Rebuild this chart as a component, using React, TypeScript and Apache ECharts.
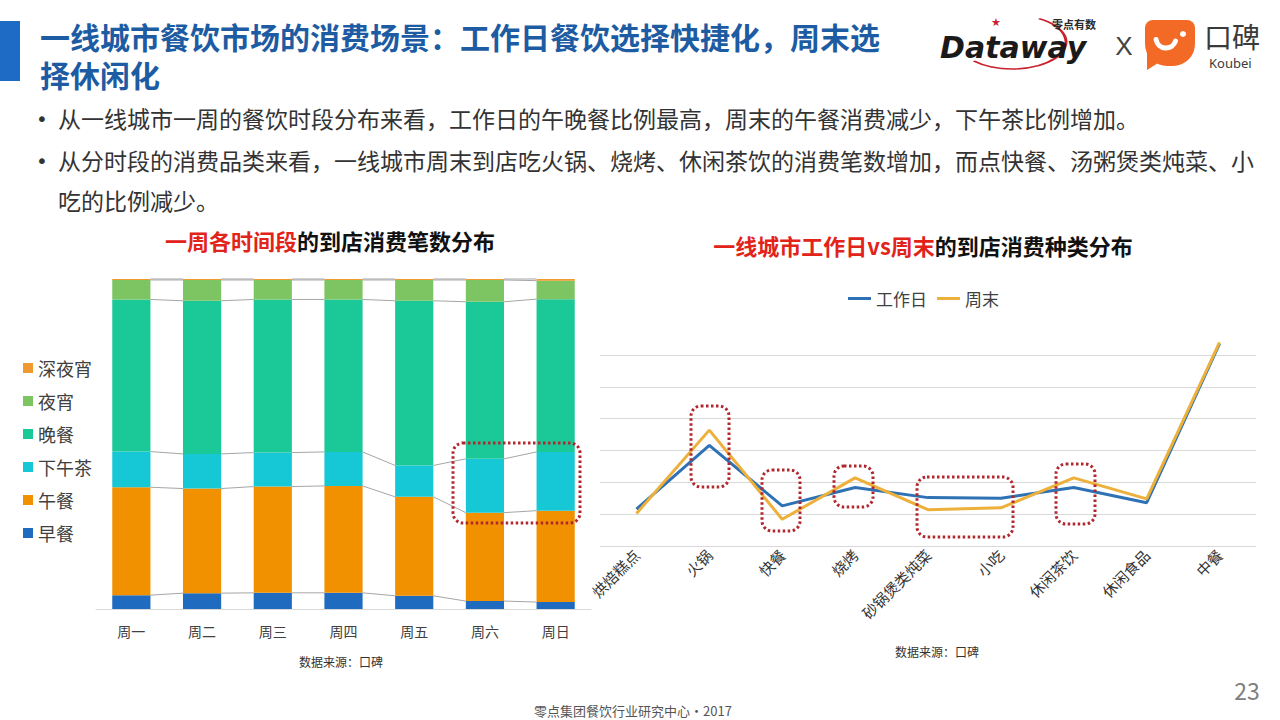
import { useEffect, useRef } from "react";
import * as echarts from "echarts";

// ---------- Left chart data: share of in-store orders by time slot (%) ----------
const days = ["周一", "周二", "周三", "周四", "周五", "周六", "周日"];
const breakfast = [4.2, 4.8, 4.9, 4.9, 4.0, 2.4, 2.1];
const lunch = [32.7, 31.7, 32.2, 32.4, 30.0, 26.8, 27.7];
const afternoonTea = [10.8, 10.5, 10.3, 10.3, 9.5, 16.3, 17.8];
const dinner = [46.1, 46.4, 46.4, 46.2, 49.9, 47.6, 46.3];
const lateSnack = [5.9, 6.3, 5.9, 5.9, 6.3, 6.6, 5.6];
const midnightSnack = [0.3, 0.3, 0.3, 0.3, 0.3, 0.3, 0.5];

const slotNames = ["早餐", "午餐", "下午茶", "晚餐", "夜宵", "深夜宵"];
const slotColors = ["#1F6BC0", "#F29100", "#16C8D6", "#1BC998", "#7DC462", "#EE9A2E"];
const legendOrder = ["深夜宵", "夜宵", "晚餐", "下午茶", "午餐", "早餐"];

// ---------- Right chart data: weekday vs weekend category share (%) ----------
const categories = ["烘焙糕点", "火锅", "快餐", "烧烤", "砂锅煲类炖菜", "小吃", "休闲茶饮", "休闲食品", "中餐"];
const weekday = [5.8, 15.8, 6.3, 9.2, 7.6, 7.5, 9.2, 6.8, 31.8];
const weekend = [5.1, 18.2, 4.2, 10.7, 5.7, 6.0, 10.7, 7.4, 32.0];

const FONT = "'Noto Sans CJK SC', 'Noto Sans', sans-serif";

export default function App() {
  const ref = useRef<HTMLDivElement>(null);

  useEffect(() => {
    if (!ref.current) return;
    const chart = echarts.init(ref.current, null, { renderer: "svg" });

    const slotSeries = [breakfast, lunch, afternoonTea, dinner, lateSnack, midnightSnack];
    const cumulative = days.map((_, i) => {
      let s = 0;
      return slotSeries.map((arr) => (s += arr[i]));
    });
    const BAR_RATIO = 0.54;

    const barSeries = slotNames.map((name, k) => ({
      name,
      type: "bar",
      stack: "slots",
      xAxisIndex: 0,
      yAxisIndex: 0,
      barWidth: "54%",
      itemStyle: { color: slotColors[k] },
      data: slotSeries[k],
    }));

    const dotted = { fill: "none", stroke: "#B0282E", lineWidth: 3, lineDash: [2.5, 2.5] };
    const box = (x: number, y: number, w: number, h: number) => ({
      type: "rect",
      shape: { x, y, width: w, height: h, r: 10 },
      style: dotted,
      z: 100,
    });

    const titleStyle = (text: string) => ({
      text,
      fontSize: 30,
      lineHeight: 34,
      fontWeight: "bold",
      fill: "#1D5CA3",
      fontFamily: FONT,
      verticalAlign: "middle",
    });

    const option: any = {
      animation: false,
      backgroundColor: "#ffffff",
      textStyle: { fontFamily: FONT },
      legend: [
        {
          data: legendOrder,
          orient: "vertical",
          left: 18,
          top: 354,
          itemWidth: 10,
          itemHeight: 10,
          itemGap: 15,
          icon: "rect",
          textStyle: { fontSize: 18, color: "#404040", fontFamily: FONT, lineHeight: 18 },
        },
        {
          data: ["工作日", "周末"],
          left: 843,
          top: 285,
          icon: "rect",
          itemWidth: 23,
          itemHeight: 3,
          itemGap: 10,
          textStyle: { fontSize: 17, color: "#404040", fontFamily: FONT },
        },
      ],
      grid: [
        { left: 96, top: 279, width: 495, height: 330 },
        { left: 600, top: 355, width: 656, height: 191 },
      ],
      xAxis: [
        {
          type: "category",
          gridIndex: 0,
          data: days,
          axisLine: { lineStyle: { color: "#D9D9D9" } },
          axisTick: { length: 5, lineStyle: { color: "#D9D9D9" } },
          axisLabel: { color: "#404040", fontSize: 14, margin: 15, fontFamily: FONT },
        },
        {
          type: "category",
          gridIndex: 1,
          data: categories,
          axisLine: { show: false },
          axisTick: { show: false },
          axisLabel: { color: "#333333", fontSize: 15, rotate: 45, interval: 0, margin: 6, fontFamily: FONT },
        },
      ],
      yAxis: [
        { type: "value", gridIndex: 0, min: 0, max: 100, show: false, splitLine: { show: false } },
        {
          type: "value",
          gridIndex: 1,
          min: 0,
          max: 30,
          interval: 5,
          axisLabel: { show: false },
          axisLine: { show: false },
          axisTick: { show: false },
          splitLine: { lineStyle: { color: "#D9D9D9", width: 1 } },
        },
      ],
      series: [
        ...barSeries,
        {
          type: "custom",
          name: "series-lines",
          xAxisIndex: 0,
          yAxisIndex: 0,
          silent: true,
          z: 1,
          encode: { x: 0, y: 1 },
          data: days.slice(0, -1).map((_, i) => [i, 0]),
          renderItem: (params: any, api: any) => {
            const i = api.value(0);
            const half = (api.size([1, 0])[0] * BAR_RATIO) / 2;
            const children = cumulative[i].map((c: number, k: number) => {
              const p1 = api.coord([i, c]);
              const p2 = api.coord([i + 1, cumulative[i + 1][k]]);
              return {
                type: "line",
                shape: { x1: p1[0] + half, y1: p1[1], x2: p2[0] - half, y2: p2[1] },
                style: { stroke: "#A6A6A6", lineWidth: 1 },
              };
            });
            return { type: "group", children };
          },
        },
        {
          name: "工作日",
          type: "line",
          xAxisIndex: 1,
          yAxisIndex: 1,
          data: weekday,
          symbol: "none",
          clip: false,
          itemStyle: { color: "#2E72B5" },
          lineStyle: { color: "#2E72B5", width: 3 },
        },
        {
          name: "周末",
          type: "line",
          xAxisIndex: 1,
          yAxisIndex: 1,
          data: weekend,
          symbol: "none",
          clip: false,
          itemStyle: { color: "#EDB03A" },
          lineStyle: { color: "#EDB03A", width: 3 },
        },
      ],
      graphic: [
        // header bar and title
        { type: "rect", shape: { x: 0, y: 21, width: 20, height: 60 }, style: { fill: "#1E6BC6" } },
        { type: "text", x: 40, y: 36, style: titleStyle("一线城市餐饮市场的消费场景：工作日餐饮选择快捷化，周末选") },
        { type: "text", x: 40, y: 74, style: titleStyle("择休闲化") },
        // bullets
        { type: "text", x: 36, y: 119, style: { text: "•", fontSize: 20, fill: "#333", fontFamily: "'DejaVu Sans', sans-serif", verticalAlign: "middle" } },
        {
          type: "text",
          x: 58,
          y: 118,
          style: {
            text: "从一线城市一周的餐饮时段分布来看，工作日的午晚餐比例最高，周末的午餐消费减少，下午茶比例增加。",
            fontSize: 23,
            fill: "#333",
            fontFamily: FONT,
            verticalAlign: "middle",
          },
        },
        { type: "text", x: 36, y: 161, style: { text: "•", fontSize: 20, fill: "#333", fontFamily: "'DejaVu Sans', sans-serif", verticalAlign: "middle" } },
        {
          type: "text",
          x: 58,
          y: 160,
          style: {
            text: "从分时段的消费品类来看，一线城市周末到店吃火锅、烧烤、休闲茶饮的消费笔数增加，而点快餐、汤粥煲类炖菜、小",
            fontSize: 23,
            fill: "#333",
            fontFamily: FONT,
            verticalAlign: "middle",
          },
        },
        {
          type: "text",
          x: 58,
          y: 200,
          style: { text: "吃的比例减少。", fontSize: 23, fill: "#333", fontFamily: FONT, verticalAlign: "middle" },
        },
        // chart titles
        {
          type: "text",
          x: 330,
          y: 240,
          style: {
            text: "{r|一周各时间段}{b|的到店消费笔数分布}",
            align: "center",
            verticalAlign: "middle",
            fontFamily: FONT,
            rich: {
              r: { fontSize: 22, fontWeight: "bold", fill: "#E2231A", fontFamily: FONT },
              b: { fontSize: 22, fontWeight: "bold", fill: "#111", fontFamily: FONT },
            },
          },
        },
        {
          type: "text",
          x: 923,
          y: 245,
          style: {
            text: "{r|一线城市工作日vs周末}{b|的到店消费种类分布}",
            align: "center",
            verticalAlign: "middle",
            fontFamily: FONT,
            rich: {
              r: { fontSize: 22, fontWeight: "bold", fill: "#E2231A", fontFamily: FONT },
              b: { fontSize: 22, fontWeight: "bold", fill: "#111", fontFamily: FONT },
            },
          },
        },
        // sources & footer
        { type: "text", x: 341, y: 661, style: { text: "数据来源：口碑", fontSize: 12, fill: "#333", align: "center", verticalAlign: "middle", fontFamily: FONT } },
        { type: "text", x: 937, y: 651, style: { text: "数据来源：口碑", fontSize: 12, fill: "#333", align: "center", verticalAlign: "middle", fontFamily: FONT } },
        { type: "text", x: 633, y: 710, style: { text: "零点集团餐饮行业研究中心·2017", fontSize: 13, fill: "#555", align: "center", verticalAlign: "middle", fontFamily: FONT } },
        { type: "text", x: 1247, y: 690, style: { text: "23", fontSize: 23, fill: "#808080", align: "center", verticalAlign: "middle", fontFamily: FONT } },
        // annotation boxes
        box(453, 443, 127, 80),
        box(691, 406, 38, 81),
        box(762, 470, 38, 61),
        box(834, 466, 39, 41),
        box(917, 477, 96, 60),
        box(1056, 464, 39, 60),
        // Dataway logo
        {
          type: "arc",
          x: 1012,
          y: 42,
          scaleY: 0.5,
          shape: { cx: 0, cy: 0, r: 54, startAngle: -Math.PI / 3, endAngle: (Math.PI * 3) / 4, clockwise: true },
          style: { stroke: "#C8202F", lineWidth: 3, fill: "none" },
        },
        { type: "text", x: 996, y: 22, style: { text: "★", fontSize: 11, fill: "#D0202E", align: "center", verticalAlign: "middle" } },
        {
          type: "text",
          x: 940,
          y: 47,
          style: {
            text: "Dataway",
            fontSize: 30,
            lineHeight: 30,
            fontWeight: "bold",
            fontStyle: "italic",
            fill: "#1A1A1A",
            fontFamily: "'DejaVu Sans', sans-serif",
            verticalAlign: "middle",
          },
        },
        { type: "text", x: 1052, y: 24, style: { text: "零点有数", fontSize: 11, lineHeight: 11, fontWeight: "bold", fill: "#2B2B2B", fontFamily: FONT, verticalAlign: "middle" } },
        { type: "text", x: 1124, y: 46, style: { text: "X", fontSize: 26, fill: "#444", fontFamily: "'Liberation Sans', sans-serif", align: "center", verticalAlign: "middle" } },
        // Koubei logo
        { type: "polygon", shape: { points: [[1147, 40], [1147, 70], [1166, 58]] }, style: { fill: "#F26A25" } },
        { type: "rect", shape: { x: 1145, y: 20, width: 50, height: 46, r: [8, 8, 22, 22] }, style: { fill: "#F26A25" } },
        {
          type: "arc",
          shape: { cx: 1166, cy: 38, r: 10, startAngle: Math.PI * 0.1, endAngle: Math.PI * 0.95, clockwise: true },
          style: { stroke: "#ffffff", lineWidth: 5, fill: "none", lineCap: "round" },
        },
        { type: "circle", shape: { cx: 1183, cy: 34, r: 3 }, style: { fill: "#ffffff" } },
        { type: "text", x: 1204, y: 36, style: { text: "口碑", fontSize: 28, lineHeight: 28, fill: "#3A3A3A", fontFamily: FONT, verticalAlign: "middle" } },
        { type: "text", x: 1209, y: 63, style: { text: "Koubei", fontSize: 13, lineHeight: 13, fill: "#3A3A3A", fontFamily: "'Noto Sans', sans-serif", verticalAlign: "middle" } },
      ],
    };

    chart.setOption(option);
    return () => chart.dispose();
  }, []);

  return (
    <div
      ref={ref}
      style={{ position: "fixed", left: 0, top: 0, width: 1280, height: 720, background: "#fff" }}
    />
  );
}
